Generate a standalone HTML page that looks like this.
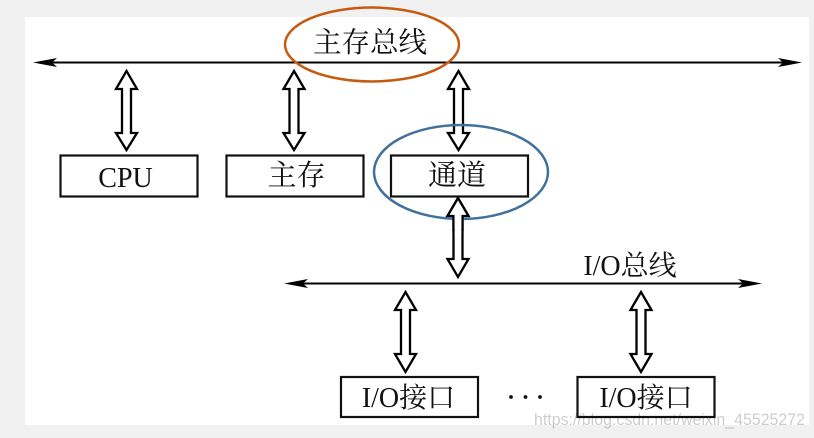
<!DOCTYPE html>
<html><head><meta charset="utf-8"><style>
html,body{margin:0;padding:0;background:#f1f1f1}
svg{display:block}
text{font-family:"Liberation Serif","Noto Serif CJK SC",serif;font-size:28px;fill:#111;text-anchor:middle}
</style></head><body>
<svg width="814" height="438" viewBox="0 0 814 438" xmlns="http://www.w3.org/2000/svg">
<rect width="814" height="438" fill="#f1f1f1"/>
<rect x="25" y="17" width="784" height="408" fill="#fff"/>
<g stroke="#000" stroke-width="2"><line x1="45" y1="62.500" x2="790" y2="62.500"/><line x1="296" y1="283.500" x2="750" y2="283.500"/></g>
<g fill="#000">
<path d="M33 62.500L57 58L52 62.500L57 67Z"/><path d="M802 62.500L778 58L783 62.500L778 67Z"/>
<path d="M284 283.500L308 279L303 283.500L308 288Z"/><path d="M762 283.500L738 279L743 283.500L738 288Z"/>
</g>
<g fill="#fff" stroke="#000" stroke-width="2.300">
<path d="M126.500 71L137 89H131V133H137L126.500 150L116 133H122V89H116Z"/>
<path d="M294 71L304.500 89H298.500V133H304.500L294 150L283.500 133H289.500V89H283.500Z"/>
<path d="M458.500 71L469 89H463V133H469L458.500 150L448 133H454V89H448Z"/>
<path d="M458 198L468.500 216H462.500V259H468.500L458 277L447.500 259H453.500V216H447.500Z"/>
<path d="M405.500 292L416 310H410V354H416L405.500 372L395 354H401V310H395Z"/>
<path d="M641 292L651.500 310H645.500V354H651.500L641 372L630.500 354H636.500V310H630.500Z"/>
</g>
<g fill="#fff" stroke="#111" stroke-width="2.200">
<rect x="60.500" y="155.500" width="137" height="41"/>
<rect x="226.500" y="155.500" width="137" height="41"/>
<rect x="391" y="155.500" width="137" height="41"/>
<rect x="341" y="377" width="137" height="40"/>
<rect x="577.500" y="377" width="137" height="40"/>
</g>
<ellipse cx="372" cy="44.500" rx="87" ry="37" fill="none" stroke="#c55a11" stroke-width="2.500"/>
<ellipse cx="461" cy="172" rx="87" ry="47" fill="none" stroke="#41719c" stroke-width="2.500"/>
<path d="M458 198L468.500 216H462.500V230H453.500V216H447.500Z" fill="#fff" stroke="#000" stroke-width="2.300"/>
<path d="M454.700 214H461.300V234H454.700Z" fill="#fff"/>
<text x="370" y="52" style="font-size:28.500px">主存总线</text>
<text x="125.500" y="187">CPU</text>
<text x="296.500" y="185" style="font-size:29px">主存</text>
<text x="457" y="185" style="font-size:29px">通道</text>
<text x="630" y="275">I/O总线</text>
<text x="408.500" y="407">I/O接口</text>
<text x="646" y="407">I/O接口</text>
<g fill="#111"><circle cx="511" cy="397" r="1.900"/><circle cx="525.500" cy="397" r="1.900"/><circle cx="540" cy="397" r="1.900"/></g>
<text x="534" y="425" textLength="271" lengthAdjust="spacingAndGlyphs" style="font-family:'Liberation Sans',sans-serif;font-size:17px;fill:#000;fill-opacity:.2;text-anchor:start">https://blog.csdn.net/weixin_45525272</text>
</svg>
</body></html>
